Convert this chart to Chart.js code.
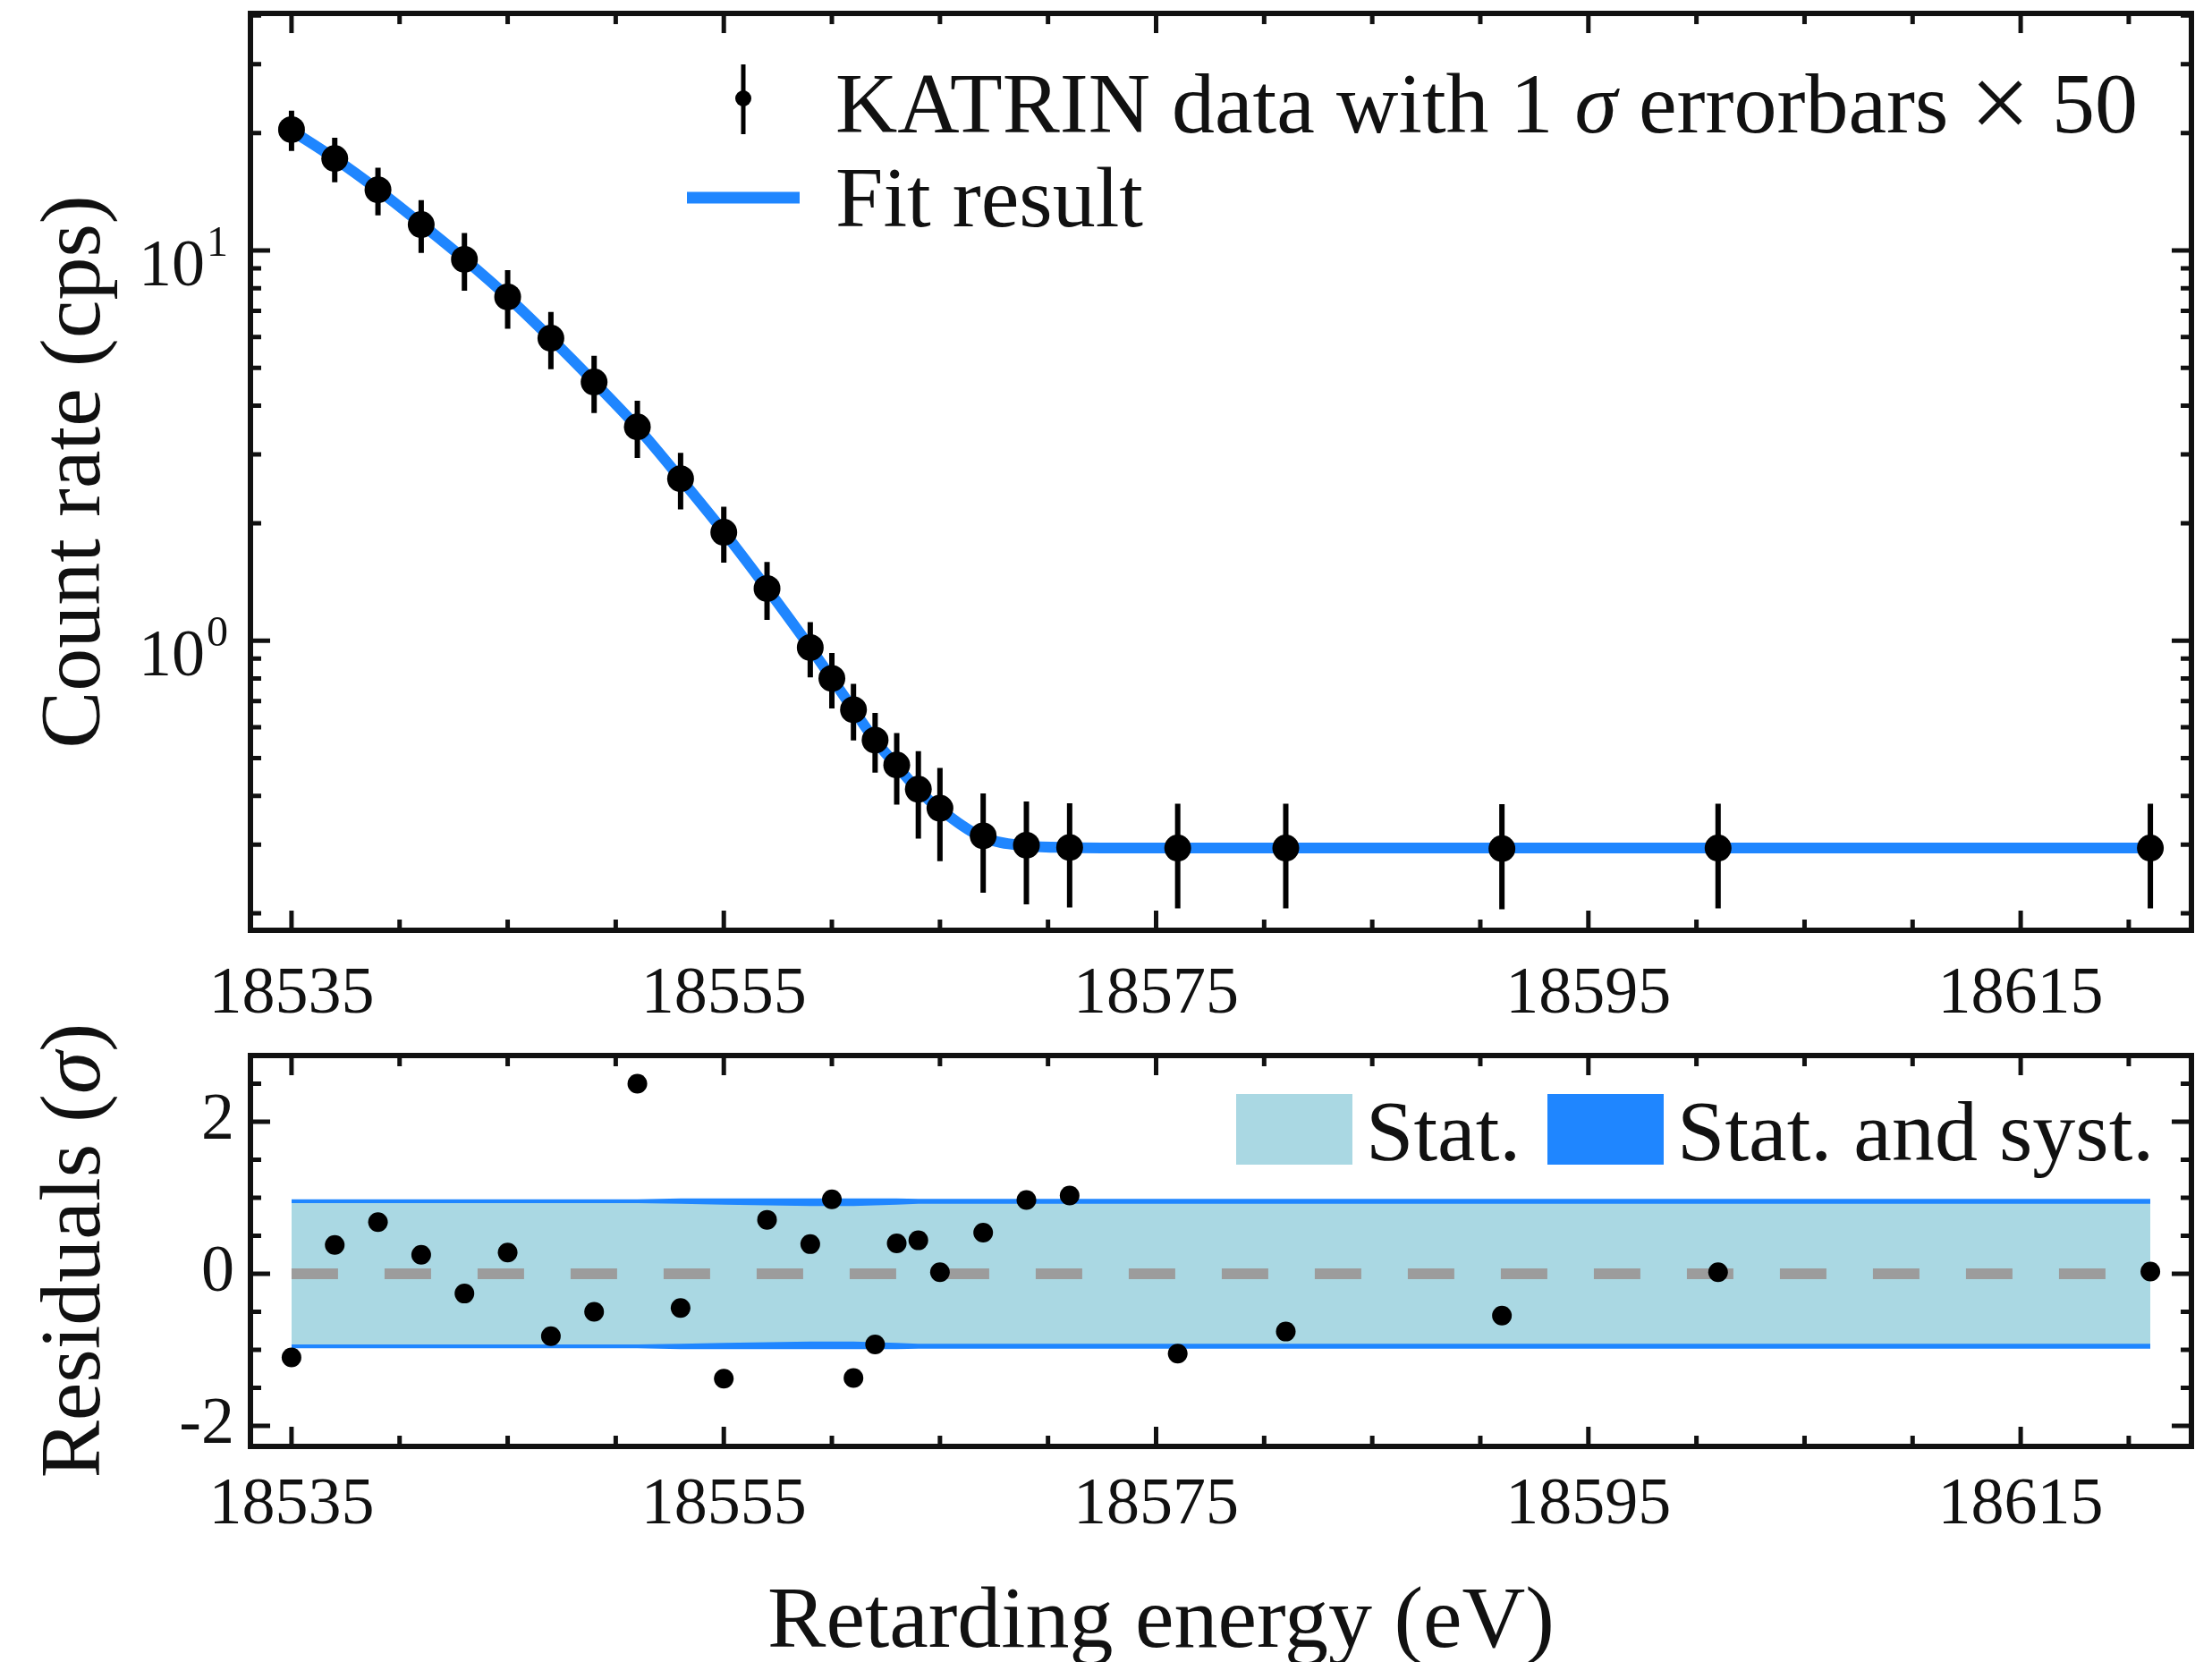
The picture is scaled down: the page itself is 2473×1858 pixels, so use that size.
<!DOCTYPE html>
<html>
<head>
<meta charset="utf-8">
<title>KATRIN spectrum fit</title>
<script src="https://cdn.jsdelivr.net/npm/chart.js"></script>
<style>
  html, body { margin: 0; padding: 0; background: #fff; }
  #wrap { position: relative; width: 2473px; height: 1858px; overflow: hidden; background: #fff; }
  canvas { position: absolute; left: 0; }
  #topChart { top: 0; }
  #resChart { top: 1120px; }
</style>
</head>
<body>
<div id="wrap">
  <canvas id="topChart" width="2473" height="1160"></canvas>
  <canvas id="resChart" width="2473" height="738"></canvas>
</div>
<script>
// retarding energies of the scan steps (eV)
var energies = [18535, 18537, 18539, 18541, 18543, 18545, 18547, 18549, 18551, 18553,
                18555, 18557, 18559, 18560, 18561, 18562, 18563, 18564, 18565, 18567,
                18569, 18571, 18576, 18581, 18591, 18601, 18621];
// measured count rate (cps)
var rates = [20.4, 17.2, 14.3, 11.65, 9.49, 7.6, 5.96, 4.6, 3.53, 2.6,
             1.895, 1.36, 0.96, 0.8, 0.665, 0.556, 0.48, 0.416, 0.372, 0.316,
             0.299, 0.295, 0.294, 0.294, 0.293, 0.294, 0.294];
// 1 sigma errors, already multiplied by 50
var rateErrors = [2.4, 2.25, 2.0, 1.8, 1.6, 1.3, 1.0, 0.77, 0.59, 0.43,
                  0.31, 0.23, 0.155, 0.13, 0.11, 0.097, 0.1, 0.105, 0.1, 0.09,
                  0.088, 0.088, 0.088, 0.088, 0.088, 0.088, 0.088];
// fit curve read at the same energies
var fitRates = [20.3, 17.2, 14.3, 11.7, 9.5, 7.6, 5.95, 4.6, 3.52, 2.6,
                1.9, 1.36, 0.96, 0.8, 0.665, 0.555, 0.478, 0.414, 0.37, 0.313,
                0.298, 0.295, 0.294, 0.294, 0.294, 0.294, 0.294];
// normalised residuals (sigma)
var residuals = [-1.1, 0.38, 0.68, 0.25, -0.26, 0.28, -0.82, -0.5, 2.5, -0.45,
                 -1.38, 0.71, 0.39, 0.98, -1.37, -0.93, 0.4, 0.44, 0.02, 0.54,
                 0.97, 1.03, -1.05, -0.76, -0.55, 0.02, 0.03];
// half widths of the 1 sigma bands
var statBand = [0.93, 0.93, 0.93, 0.93, 0.93, 0.93, 0.93, 0.93, 0.93, 0.92,
                0.91, 0.9, 0.89, 0.89, 0.89, 0.9, 0.91, 0.92, 0.92, 0.92,
                0.92, 0.92, 0.92, 0.92, 0.92, 0.92, 0.92];
var systBand = [0.98, 0.98, 0.98, 0.98, 0.98, 0.98, 0.98, 0.98, 0.98, 0.99,
                0.99, 0.99, 0.99, 0.99, 0.99, 0.99, 0.99, 0.985, 0.985, 0.985,
                0.985, 0.985, 0.985, 0.985, 0.985, 0.985, 0.985];
var zeroLineX = [18535, 18621];

// tick positions and labels
var xTickValues = [18535, 18540, 18545, 18550, 18555, 18560, 18565, 18570, 18575,
                   18580, 18585, 18590, 18595, 18600, 18605, 18610, 18615, 18620];
var xTickLabels = [18535, 18555, 18575, 18595, 18615];
var yTickValues = [0.2, 0.3, 0.4, 0.5, 0.6, 0.7, 0.8, 0.9, 1, 2, 3, 4, 5, 6, 7, 8, 9, 10, 20, 30, 40];
var yTickLabels = [1, 10];
var resTickValues = [-2, -1.5, -1, -0.5, 0, 0.5, 1, 1.5, 2, 2.5];
var resTickLabels = [-2, 0, 2];

var SERIF = '"Liberation Serif", "Times New Roman", serif';
var INK = '#111';
var BLUE = '#1f86ff';
var LIGHTBLUE = '#aad8e3';

function xy(xs, ys) {
  return xs.map(function (x, i) { return { x: x, y: ys[i] }; });
}

function setTicks(values, labels) {
  return function (scale) {
    scale.ticks = values.map(function (v) {
      return { value: v, major: labels.indexOf(v) >= 0 };
    });
  };
}

// text made of plain / italic pieces (a piece may have its own size and shift)
function drawRich(ctx, parts, x, y, size) {
  parts.forEach(function (p) {
    ctx.font = (p.italic ? 'italic ' : '') + (p.size || size) + 'px ' + SERIF;
    ctx.fillText(p.text, x, y + (p.dy || 0));
    x += ctx.measureText(p.text).width;
  });
}

// box around the plot with inward ticks on all four sides
var frameTicks = {
  id: 'frameTicks',
  afterDraw: function (chart) {
    var ctx = chart.ctx, a = chart.chartArea;
    var xs = chart.scales.x, ys = chart.scales.y;
    ctx.save();
    ctx.strokeStyle = INK;
    ctx.lineWidth = 5;
    ctx.beginPath();
    xs.ticks.forEach(function (t) {
      var px = xs.getPixelForValue(t.value);
      var len = t.major ? 22 : 12;
      ctx.moveTo(px, a.bottom); ctx.lineTo(px, a.bottom - len);
      ctx.moveTo(px, a.top); ctx.lineTo(px, a.top + len);
    });
    ys.ticks.forEach(function (t) {
      var py = ys.getPixelForValue(t.value);
      var len = t.major ? 22 : 12;
      ctx.moveTo(a.left, py); ctx.lineTo(a.left + len, py);
      ctx.moveTo(a.right, py); ctx.lineTo(a.right - len, py);
    });
    ctx.stroke();
    ctx.lineWidth = 6;
    ctx.strokeRect(a.left, a.top, a.right - a.left, a.bottom - a.top);
    ctx.restore();
  }
};

var errorBars = {
  id: 'errorBars',
  afterDatasetsDraw: function (chart) {
    var ctx = chart.ctx, xs = chart.scales.x, ys = chart.scales.y;
    ctx.save();
    ctx.strokeStyle = '#000';
    ctx.lineWidth = 6;
    ctx.beginPath();
    energies.forEach(function (e, i) {
      var px = xs.getPixelForValue(e);
      ctx.moveTo(px, ys.getPixelForValue(rates[i] + rateErrors[i]));
      ctx.lineTo(px, ys.getPixelForValue(rates[i] - rateErrors[i]));
    });
    ctx.stroke();
    ctx.restore();
  }
};

// 10^n labels on the log axis
var logLabels = {
  id: 'logLabels',
  afterDraw: function (chart) {
    var ctx = chart.ctx, ys = chart.scales.y;
    ctx.save();
    ctx.fillStyle = INK;
    ctx.textBaseline = 'alphabetic';
    yTickLabels.forEach(function (v) {
      var py = ys.getPixelForValue(v);
      var exp = String(Math.round(Math.log10(v)));
      ctx.font = '74px ' + SERIF;
      ctx.textAlign = 'right';
      ctx.fillText('10', 229, py + 39);
      ctx.font = '48px ' + SERIF;
      ctx.textAlign = 'left';
      ctx.fillText(exp, 231, py + 6);
    });
    ctx.restore();
  }
};

var topLegend = {
  id: 'topLegend',
  afterDraw: function (chart) {
    var ctx = chart.ctx;
    ctx.save();
    ctx.strokeStyle = '#000';
    ctx.fillStyle = '#000';
    ctx.lineWidth = 5;
    ctx.beginPath();
    ctx.moveTo(831, 72); ctx.lineTo(831, 150);
    ctx.stroke();
    ctx.beginPath();
    ctx.arc(831, 110, 9, 0, Math.PI * 2);
    ctx.fill();
    ctx.strokeStyle = BLUE;
    ctx.lineWidth = 13;
    ctx.beginPath();
    ctx.moveTo(768, 221); ctx.lineTo(894, 221);
    ctx.stroke();
    ctx.fillStyle = INK;
    ctx.textAlign = 'left';
    ctx.textBaseline = 'alphabetic';
    drawRich(ctx, [{ text: 'KATRIN data with 1 ' }, { text: 'σ', italic: true },
                   { text: ' errorbars ' }, { text: '×', size: 120, dy: 7 },
                   { text: ' 50' }], 934, 148, 96);
    drawRich(ctx, [{ text: 'Fit result' }], 934, 253, 96);
    ctx.restore();
  }
};

var resLegend = {
  id: 'resLegend',
  afterDraw: function (chart) {
    var ctx = chart.ctx;
    ctx.save();
    ctx.fillStyle = LIGHTBLUE;
    ctx.fillRect(1382, 103, 130, 79);
    ctx.fillStyle = BLUE;
    ctx.fillRect(1730, 103, 130, 79);
    ctx.fillStyle = INK;
    ctx.textAlign = 'left';
    ctx.textBaseline = 'alphabetic';
    drawRich(ctx, [{ text: 'Stat.' }], 1527, 177, 96);
    drawRich(ctx, [{ text: 'Stat. and syst.' }], 1875, 177, 96);
    // x title, centred a little left of the plot centre as in the figure
    ctx.font = '98px ' + SERIF;
    ctx.textAlign = 'center';
    ctx.textBaseline = 'middle';
    ctx.fillText('Retarding energy (eV)', 1298, 695);
    // y title with italic sigma
    ctx.translate(86, 278);
    ctx.rotate(-Math.PI / 2);
    ctx.textAlign = 'left';
    ctx.font = '96px ' + SERIF;
    var w = ctx.measureText('Residuals (').width + ctx.measureText(')').width;
    ctx.font = 'italic 96px ' + SERIF;
    w += ctx.measureText('σ').width;
    drawRich(ctx, [{ text: 'Residuals (' }, { text: 'σ', italic: true }, { text: ')' }], -w / 2, 0, 96);
    ctx.restore();
  }
};

var noGrid = { display: false, drawTicks: false };

function xScale(height, padding) {
  return {
    type: 'linear', min: 18533.1, max: 18622.9,
    grid: noGrid, border: { display: false },
    afterBuildTicks: setTicks(xTickValues, xTickLabels),
    afterFit: function (s) { s.height = height; },
    ticks: {
      autoSkip: false, maxRotation: 0, padding: padding, color: INK,
      font: { size: 74, family: SERIF },
      callback: function (v) { return xTickLabels.indexOf(v) >= 0 ? String(v) : ''; }
    }
  };
}

Chart.defaults.font.family = SERIF;
Chart.defaults.color = INK;

new Chart(document.getElementById('topChart'), {
  type: 'scatter',
  data: {
    datasets: [{
      label: 'KATRIN data with 1 σ errorbars × 50',
      data: xy(energies, rates),
      backgroundColor: '#000', borderWidth: 0,
      pointRadius: 15, pointHoverRadius: 15,
      order: 0
    }, {
      type: 'line',
      label: 'Fit result',
      data: xy(energies, fitRates),
      borderColor: BLUE, borderWidth: 12,
      pointRadius: 0, fill: false,
      cubicInterpolationMode: 'monotone',
      order: 1
    }]
  },
  options: {
    responsive: false, animation: false, devicePixelRatio: 1,
    layout: { padding: { top: 15, right: 23, left: 0, bottom: 0 } },
    plugins: { legend: { display: false }, tooltip: { enabled: false } },
    scales: {
      x: xScale(120, 28),
      y: {
        type: 'logarithmic', min: 0.181, max: 40.5,
        grid: noGrid, border: { display: false },
        afterBuildTicks: setTicks(yTickValues, yTickLabels),
        afterFit: function (s) { s.width = 280; },
        ticks: { display: false },
        title: {
          display: true, text: 'Count rate (cps)', color: INK,
          font: { size: 96, family: SERIF, lineHeight: 1.2 },
          padding: { top: 28, bottom: 0 }
        }
      }
    }
  },
  plugins: [frameTicks, errorBars, logLabels, topLegend]
});

new Chart(document.getElementById('resChart'), {
  type: 'scatter',
  data: {
    datasets: [{
      type: 'line', label: 'Stat. and syst.',
      data: xy(energies, systBand),
      fill: '+1', backgroundColor: BLUE, borderWidth: 0, pointRadius: 0, order: 3
    }, {
      type: 'line', label: 'syst lower',
      data: xy(energies, systBand.map(function (v) { return -v; })),
      fill: false, borderWidth: 0, pointRadius: 0, order: 3
    }, {
      type: 'line', label: 'Stat.',
      data: xy(energies, statBand),
      fill: '+1', backgroundColor: LIGHTBLUE, borderWidth: 0, pointRadius: 0, order: 2
    }, {
      type: 'line', label: 'stat lower',
      data: xy(energies, statBand.map(function (v) { return -v; })),
      fill: false, borderWidth: 0, pointRadius: 0, order: 2
    }, {
      type: 'line', label: 'zero',
      data: xy(zeroLineX, [0, 0]),
      borderColor: '#9c9c9c', borderWidth: 12, borderDash: [52, 52],
      pointRadius: 0, fill: false, order: 1
    }, {
      label: 'Residuals',
      data: xy(energies, residuals),
      backgroundColor: '#000', borderWidth: 0,
      pointRadius: 11, pointHoverRadius: 11, order: 0
    }]
  },
  options: {
    responsive: false, animation: false, devicePixelRatio: 1,
    layout: { padding: { top: 60, right: 23, left: 0, bottom: 0 } },
    plugins: { legend: { display: false }, tooltip: { enabled: false } },
    scales: {
      x: xScale(241, 22),
      y: {
        type: 'linear', min: -2.27, max: 2.87,
        grid: noGrid, border: { display: false },
        afterBuildTicks: setTicks(resTickValues, resTickLabels),
        afterFit: function (s) { s.width = 280; },
        ticks: {
          autoSkip: false, padding: 18, color: INK,
          font: { size: 74, family: SERIF, lineHeight: 0.4 },
          callback: function (v) { return resTickLabels.indexOf(v) >= 0 ? String(v) : ''; }
        }
      }
    }
  },
  plugins: [frameTicks, resLegend]
});
</script>
</body>
</html>
